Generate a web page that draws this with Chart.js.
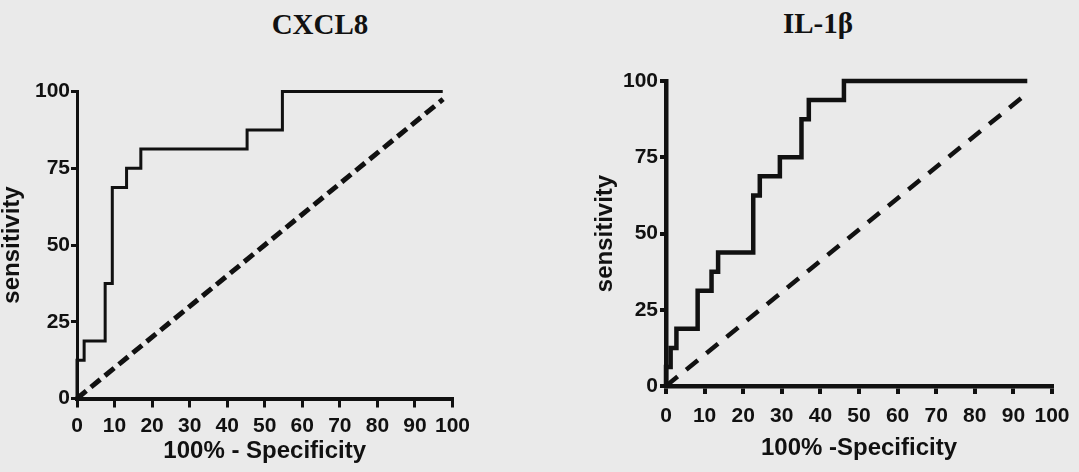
<!DOCTYPE html>
<html>
<head>
<meta charset="utf-8">
<script src="https://cdn.jsdelivr.net/npm/chart.js@4.4.0/dist/chart.umd.min.js"></script>
<style>
    body { margin: 0; background: #eaeaea; width: 1079px; height: 472px; overflow: hidden; position: relative; }
    .panel { position: absolute; top: 0; height: 472px; }
    .title { position: absolute; width: 200px; text-align: center; font: bold 29px 'Liberation Serif', 'Times New Roman', serif; line-height: 29px; color: #111; }
</style>
</head>
<body>
<div class="title" style="left:220px; top:10px;">CXCL8</div>
<div class="title" style="left:718px; top:9px;">IL-1β</div>
<div class="panel" style="left:0; width:540px;"><canvas id="cxcl8Chart"></canvas></div>
<div class="panel" style="left:540px; width:539px;"><canvas id="il1bChart"></canvas></div>
<script>
// tick values shared by both panels
const xTickValues = [0, 10, 20, 30, 40, 50, 60, 70, 80, 90, 100];
const yTickValues = [0, 25, 50, 75, 100];

// CXCL8 ROC (100% - specificity, sensitivity)
const cxcl8Fpr = [0, 0, 1.9, 7.5, 9.4, 13.2, 17.0, 45.3, 54.7, 97.4];
const cxcl8Sens = [0, 12.5, 18.75, 37.5, 68.75, 75, 81.25, 87.5, 100, 100];
const cxcl8DiagX = [0, 97.5];
const cxcl8DiagY = [0, 97.5];

// IL-1beta ROC
const il1bFpr = [0, 0, 1.2, 2.7, 8.2, 11.8, 13.5, 22.6, 24.3, 29.5, 35.1, 37.0, 46.1, 93.6];
const il1bSens = [0, 6.25, 12.5, 18.75, 31.25, 37.5, 43.75, 62.5, 68.75, 75, 87.5, 93.75, 100, 100];
const il1bDiagX = [0, 93.6];
const il1bDiagY = [0, 96];

const FONT = "'Liberation Sans', Arial, sans-serif";
const INK = '#111';

function toPoints(xs, ys) {
    return xs.map((x, i) => ({ x: x, y: ys[i] }));
}

function makeRoc(canvasId, p) {
    const ctx = document.getElementById(canvasId).getContext('2d');
    return new Chart(ctx, {
        type: 'line',
        data: {
            datasets: [
                {
                    data: toPoints(p.fpr, p.sens),
                    borderColor: INK,
                    borderWidth: p.curveWidth,
                    stepped: 'before',
                    pointRadius: 0,
                    fill: false,
                    clip: false,
                    borderJoinStyle: 'miter',
                },
                {
                    data: toPoints(p.diagX, p.diagY),
                    borderColor: INK,
                    borderWidth: p.dashWidth,
                    borderDash: p.dash,
                    pointRadius: 0,
                    fill: false,
                    clip: false,
                }
            ]
        },
        options: {
            responsive: true,
            maintainAspectRatio: false,
            animation: false,
            events: [],
            layout: { padding: { top: p.top, right: p.right, left: 0, bottom: 0 } },
            plugins: {
                legend: { display: false },
                tooltip: { enabled: false },
                title: { display: false }
            },
            scales: {
                x: {
                    type: 'linear',
                    min: 0,
                    max: 100,
                    afterBuildTicks: (s) => { s.ticks = xTickValues.map(v => ({ value: v })); },
                    afterFit: (s) => { s.height = p.xHeight; },
                    grid: { drawOnChartArea: false, drawTicks: true, tickLength: p.xTickLen, lineWidth: p.tickWidth, color: INK },
                    border: { display: true, width: p.xBorder, color: INK },
                    ticks: { color: INK, font: { family: FONT, size: 21, weight: 'bold' }, padding: p.xTickPad, maxRotation: 0, autoSkip: false },
                    title: { display: true, text: p.xTitle, color: INK, font: { family: FONT, size: 24, weight: 'bold' }, padding: { top: 0, bottom: p.xTitlePad } }
                },
                y: {
                    type: 'linear',
                    min: 0,
                    max: 100,
                    afterBuildTicks: (s) => { s.ticks = yTickValues.map(v => ({ value: v })); },
                    afterFit: (s) => { s.width = p.yWidth; },
                    grid: { drawOnChartArea: false, drawTicks: true, tickLength: 6, lineWidth: p.tickWidth, color: INK },
                    border: { display: true, width: p.yBorder, color: INK },
                    ticks: { color: INK, font: { family: FONT, size: 21, weight: 'bold' }, padding: p.yTickPad },
                    title: { display: true, text: 'sensitivity', color: INK, font: { family: FONT, size: 24, weight: 'bold', lineHeight: 1 }, padding: { top: p.yTitlePad, bottom: 0 } }
                }
            }
        }
    });
}

makeRoc('cxcl8Chart', {
    fpr: cxcl8Fpr, sens: cxcl8Sens, diagX: cxcl8DiagX, diagY: cxcl8DiagY,
    curveWidth: 3, dashWidth: 5, dash: [12, 6],
    top: 91.5, right: 87.5, xHeight: 73.5, yWidth: 77,
    xTickLen: 9, xTickPad: 6, yTickPad: 1, tickWidth: 3,
    xBorder: 4, yBorder: 3,
    xTitle: '100% - Specificity', xTitlePad: 6.5, yTitlePad: 0.5
});

makeRoc('il1bChart', {
    fpr: il1bFpr, sens: il1bSens, diagX: il1bDiagX, diagY: il1bDiagY,
    curveWidth: 4.5, dashWidth: 4.5, dash: [15, 11],
    top: 81, right: 26, xHeight: 86, yWidth: 126,
    xTickLen: 8, xTickPad: 9.5, yTickPad: 2, tickWidth: 4,
    xBorder: 4.5, yBorder: 4.5,
    xTitle: '100% -Specificity', xTitlePad: 9.5, yTitlePad: 53.7
});
</script>
</body>
</html>
